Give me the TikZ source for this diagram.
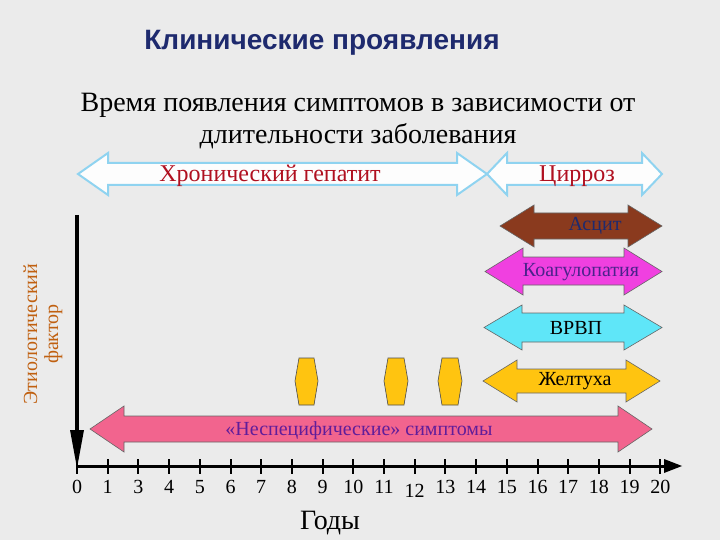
\documentclass[tikz,border=0pt]{standalone}
\usepackage{fontspec}
\setmainfont{Liberation Serif}
\newfontfamily\titlefont{Liberation Sans}
\begin{document}
\begin{tikzpicture}[x=1pt,y=-1pt,
  tick/.style={line width=2pt},
  lbl/.style={font=\fontsize{20}{20}\selectfont},
  arrtext/.style={font=\fontsize{20}{20}\selectfont},
  shade/.style={draw=black!60,line width=0.6pt}]
\definecolor{bg}{HTML}{EBEBEB}
\definecolor{ttl}{HTML}{1E2A6E}
\definecolor{dred}{HTML}{B01020}
\definecolor{ltblue}{HTML}{8FD3F0}
\definecolor{brn}{HTML}{8A3A1E}
\definecolor{mag}{HTML}{F040E0}
\definecolor{cyn}{HTML}{5FE6F8}
\definecolor{ylw}{HTML}{FFC410}
\definecolor{pnk}{HTML}{F2648E}
\definecolor{org}{HTML}{C06010}
\fill[bg] (0,0) rectangle (720,540);
\useasboundingbox (0,0) rectangle (720,540);
\newcommand\dbl[8]{%
 \filldraw[#8] (#1,{(#3+#4)/2}) -- (#1+#7,#3) -- (#1+#7,#5) -- (#2-#7,#5) -- (#2-#7,#3)
  -- (#2,{(#3+#4)/2}) -- (#2-#7,#4) -- (#2-#7,#6) -- (#1+#7,#6) -- (#1+#7,#4) -- cycle;}
\newcommand\barrel[2]{%
 \filldraw[fill=ylw,draw=black!70,line width=0.6pt] (#1+4,358) -- (#2-4,358) -- (#2,381) -- (#2-4,405) -- (#1+4,405) -- (#1,381) -- cycle;}
\node[font=\titlefont\bfseries\fontsize{28}{28}\selectfont,text=ttl] (title) at (322,43) {Клинические проявления};
\node[font=\fontsize{28}{32}\selectfont,align=center] (sub) at (358,121) {Время появления симптомов в зависимости от\\длительности заболевания};
\dbl{78}{487}{153}{195}{163}{185}{30}{fill=white!90!bg,draw=ltblue,line width=2pt}
\dbl{487}{662}{153}{195}{163}{185}{20}{fill=white!90!bg,draw=ltblue,line width=2pt}
\node[font=\fontsize{24}{24}\selectfont,text=dred] (hep) at (270,176) {Хронический гепатит};
\node[font=\fontsize{24}{24}\selectfont,text=dred] (cir) at (577,176) {Цирроз};
\dbl{500}{662}{205}{247}{213}{239}{34}{fill=brn,shade}
\node[arrtext,text=ttl] (asc) at (595,226) {Асцит};
\dbl{485}{662}{248}{295}{257}{285}{38}{fill=mag,shade}
\node[arrtext,text=ttl!80!magenta] (koag) at (581,272) {Коагулопатия};
\dbl{484}{662}{305}{350}{313}{342}{38}{fill=cyn,shade}
\node[arrtext] (vrvp) at (576,328) {ВРВП};
\dbl{483}{660}{360}{402}{369}{393}{34}{fill=ylw,shade}
\node[arrtext] (zhelt) at (575,381) {Желтуха};
\barrel{295}{318}\barrel{384}{408}\barrel{438}{462}
\dbl{90}{652}{406}{452}{416}{442}{34}{fill=pnk,shade}
\node[arrtext,text=ttl!70!magenta] (nons) at (359,431) {«Неспецифические» симптомы};
\coordinate (ytop) at (77,215);
\coordinate (xl) at (77,466);
\draw[line width=4pt] (ytop) -- (77,440);
\fill (70,430) -- (84,430) -- (77,468) -- cycle;
\draw[line width=3pt] (xl) -- (668,466);
\fill (664,459) -- (682,466) -- (664,473) -- cycle;
\foreach \i in {0,...,19}{\draw[tick] ({77+30.7*\i},459) -- ({77+30.7*\i},474);}
\foreach \i/\t in {0/0,1/1,2/3,3/4,4/5,5/6,6/7,7/8,8/9,9/10,10/11,12/13,13/14,14/15,15/16,16/17,17/18,18/19,19/20}
  {\node[lbl] at ({77+30.7*\i},487) {\t};}
\node[lbl] (twelve) at ({77+30.7*11},491) {12};
\node[font=\fontsize{28}{28}\selectfont] (years) at (330,523) {Годы};
\node[rotate=90,align=center,text=org,font=\fontsize{20}{21}\selectfont] (etio) at (43,334) {Этиологический\\фактор};
\end{tikzpicture}
\end{document}
